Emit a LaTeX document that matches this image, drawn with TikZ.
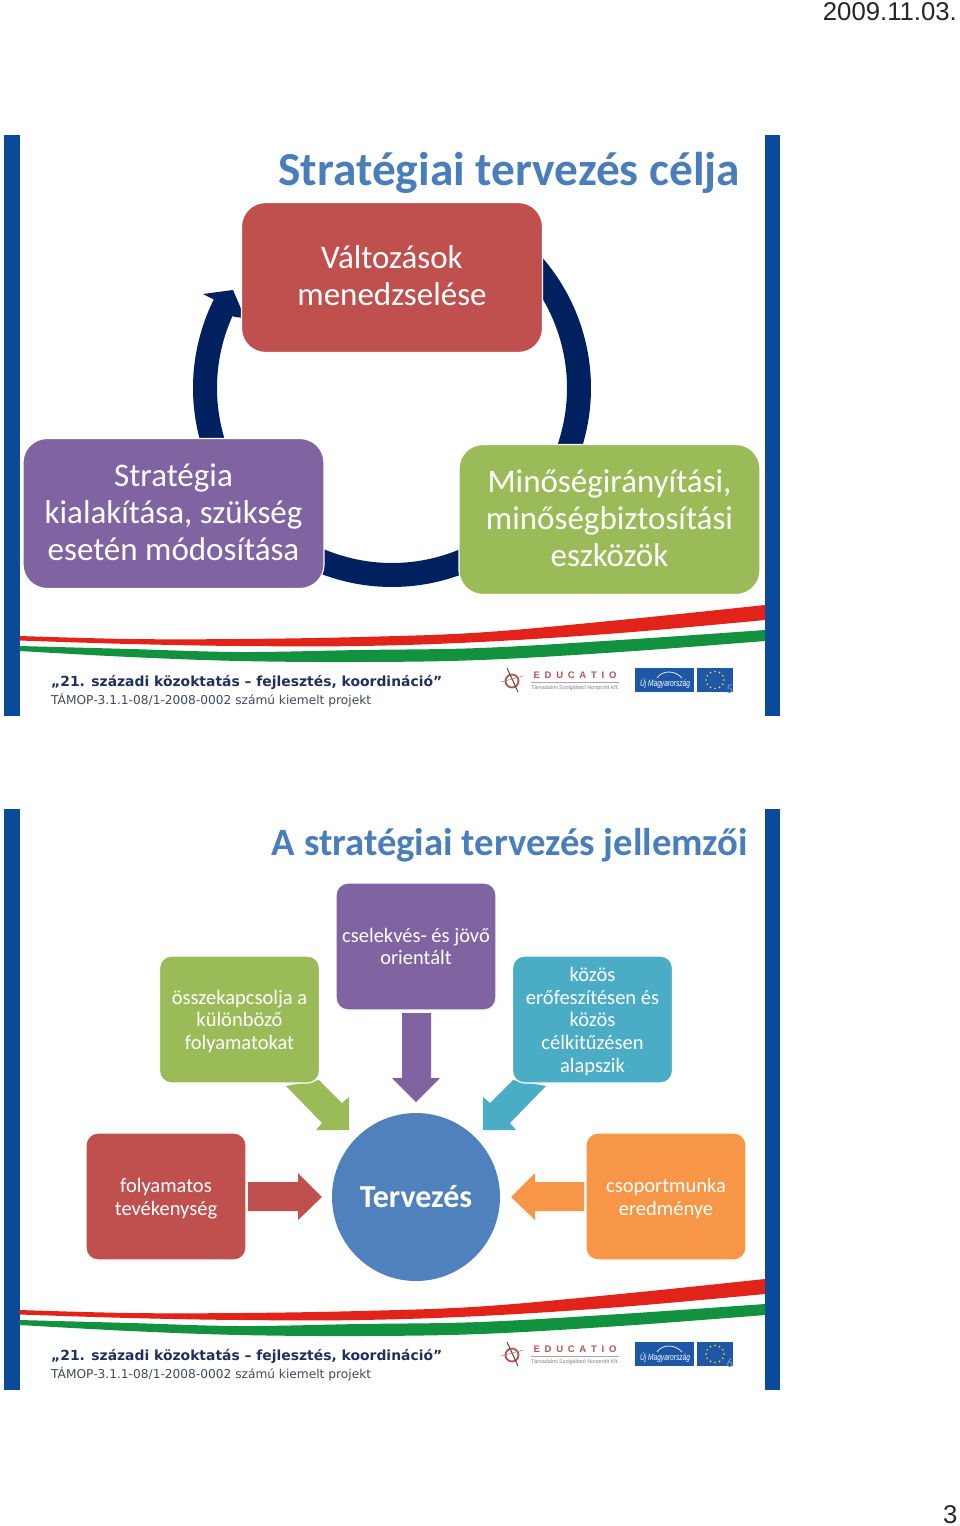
\documentclass[tikz,border=0pt]{standalone}
\usepackage{fontspec}
\usepackage{graphicx}
\setmainfont{Carlito}
\newfontfamily\arialf{Liberation Sans}
\newfontfamily\verdf{DejaVu Sans}
\definecolor{cred}{HTML}{C0504D}
\definecolor{cpurple}{HTML}{8064A2}
\definecolor{cgreen}{HTML}{9BBB59}
\definecolor{cblue}{HTML}{4F81BD}
\definecolor{cteal}{HTML}{4BACC6}
\definecolor{corange}{HTML}{F79646}
\definecolor{cnavy}{HTML}{002060}
\definecolor{cbar}{HTML}{0B4A9B}
\definecolor{ctitle}{HTML}{4A7EBB}
\definecolor{sred}{HTML}{E2231A}
\definecolor{sgreen}{HTML}{12913F}
\definecolor{foot}{HTML}{1F2F5E}
\definecolor{foottwo}{HTML}{3F4A5C}
\definecolor{logoblue}{HTML}{1F57A8}
\definecolor{numcol}{HTML}{7A93B8}
\tikzset{
  x=1pt,y=-1pt,
  bigbox/.style={draw=white,line width=1.2pt,rounded corners=24pt,minimum width=301pt,minimum height=150pt,inner sep=0pt},
  bigtext/.style={inner sep=0pt,text=white,align=center,yshift=1.5pt,font=\fontsize{33}{37}\selectfont},
  smallbox/.style={draw=white,line width=1.2pt,rounded corners=12pt,minimum width=160pt,minimum height=127pt,inner sep=0pt},
  smalltext/.style={inner sep=0pt,text=white,align=center,yshift=-2pt,font=\fontsize{20.5}{22.7}\selectfont},
  slidetitle/.style={text=ctitle,inner sep=0pt},
  bararea/.style={fill=cbar,draw=none},
  footone/.style={anchor=base west,inner sep=0pt,text=foot,font=\verdf\bfseries\fontsize{13.9}{16}\selectfont},
  foottwo/.style={anchor=base west,inner sep=0pt,text=foottwo,font=\verdf\fontsize{12.2}{14}\selectfont},
  datetext/.style={inner sep=0pt,text=black!85,font=\arialf\fontsize{25.7}{28}\selectfont},
  pagenum/.style={inner sep=0pt,text=numcol,font=\fontsize{13}{13}\selectfont},
  logotext/.style={inner sep=0pt,font=\arialf\bfseries\fontsize{9.5}{10}\selectfont,text=cred},
  logosub/.style={inner sep=0pt,font=\arialf\fontsize{5.4}{6}\selectfont,text=black!50},
  logomag/.style={inner sep=0pt,font=\arialf\itshape,text=white}
}
\newcommand{\slidefurniture}[2]{%
 \begin{scope}[shift={(0,#1)}]
  \fill[bararea] (4,135) rectangle (19.5,716);
  \fill[bararea] (765,135) rectangle (779.5,716);
  \fill[sred] plot[smooth,tension=.6] coordinates {(19.5,636) (130,639) (240,639) (360,637) (480,632.5) (620,620) (765,605)} -- plot[smooth,tension=.6] coordinates {(765,620) (620,633) (480,642) (360,646) (240,646) (130,644) (19.5,640.5)} -- cycle;
  \fill[sgreen] plot[smooth,tension=.6] coordinates {(19.5,646) (130,649) (240,652) (360,650) (480,648) (620,640) (765,630)} -- plot[smooth,tension=.6] coordinates {(765,641) (620,652) (480,660) (360,662) (240,661) (130,657) (19.5,651)} -- cycle;
  \node[footone] (foota#2) at (51,686) {„21. századi közoktatás – fejlesztés, koordináció”};
  \node[foottwo] (footb#2) at (51,704) {TÁMOP-3.1.1-08/1-2008-0002 számú kiemelt projekt};
  \draw[cred,line width=1.8pt] (512,681) circle (6.5);
  \draw[black!70,line width=1pt] (507,668) -- (518,692);
  \draw[black!50,line width=.5pt] (501,682) -- (523,676);
  \node[logotext] (edu#2) at (575,675) {E\,\,\,D\,\,\,U\,\,\,C\,\,\,A\,\,\,T\,\,\,I\,\,\,O};
  \draw[black!35,line width=.6pt] (531,682) -- (619,682);
  \node[logosub] (edusub#2) at (575,688.5) {Társadalmi Szolgáltató Nonprofit Kft.};
  \fill[logoblue] (635,668) rectangle (694,692);
  \node[logomag] (mag#2) at (665,683) {\resizebox{50pt}{8pt}{Új Magyarország}};
  \draw[white,line width=.7pt] (657,678) .. controls (662,670) and (675,670) .. (682,678);
  \fill[logoblue] (697,668) rectangle (733,692);
  \foreach \a in {0,30,...,330}{\fill[yellow!85!orange] ({715+9*cos(\a)},{680+8.5*sin(\a)}) circle (.95);}
  \node[pagenum] (num#2) at (730,689.5) {#2};
 \end{scope}}
\begin{document}
\begin{tikzpicture}
\useasboundingbox (0,0) rectangle (960,1526);
\fill[white] (0,0) rectangle (960,1526);
\node[datetext,anchor=base east] (date) at (957,20) {2009.11.03.};
\node[datetext,anchor=base east] (pg) at (957.5,1523) {3};
\slidefurniture{0}{5}
\slidefurniture{674}{6}
% slide 1 ring
\fill[cnavy] plot[domain=-45:17,samples=40] ({392+199*cos(\x)},{388+199*sin(\x)}) -- plot[domain=19:-45,samples=40] ({392+175*cos(\x)},{388+175*sin(\x)}) -- cycle;
\fill[cnavy] plot[domain=60:120,samples=40] ({392+199*cos(\x)},{388+199*sin(\x)}) -- plot[domain=120:60,samples=40] ({392+175*cos(\x)},{388+175*sin(\x)}) -- cycle;
\fill[cnavy] plot[domain=164:206.4,samples=40] ({392+199*cos(\x)},{388+199*sin(\x)}) -- (203,294) -- (233,290) -- (245,318) -- (235,317) -- plot[domain=204.3:160,samples=40] ({392+175*cos(\x)},{388+175*sin(\x)}) -- cycle;
\node[slidetitle,font=\bfseries\fontsize{47.4}{50}\selectfont] (t1) at (509.5,172.5) {Stratégiai tervezés célja};
\node[bigbox,fill=cred,label={[bigtext]center:Változások\\menedzselése}] (a) at (392,277.5) {};
\node[bigbox,fill=cpurple,label={[bigtext]center:Stratégia\\kialakítása, szükség\\esetén módosítása}] (b) at (173.5,513.5) {};
\node[bigbox,fill=cgreen,label={[bigtext]center:Minőségirányítási,\\minőségbiztosítási\\eszközök}] (c) at (609.5,519.5) {};
% slide 2
\node[slidetitle,font=\bfseries\fontsize{38.7}{41}\selectfont] (t2) at (510,845.5) {A stratégiai tervezés jellemzői};
\fill[cgreen] (286,1086) -- (319,1080) -- (342,1103) -- (349,1097) -- (349,1130) -- (316,1130) -- (322,1123) -- cycle;
\fill[cteal] (546,1086) -- (513,1080) -- (490,1103) -- (483,1097) -- (483,1130) -- (516,1130) -- (510,1123) -- cycle;
\fill[cpurple] (402,1013) -- (431,1013) -- (431,1078) -- (440,1078) -- (416,1102) -- (392,1078) -- (402,1078) -- cycle;
\fill[cred] (248,1182) -- (298,1182) -- (298,1173) -- (322,1197) -- (298,1220) -- (298,1211) -- (248,1211) -- cycle;
\fill[corange] (584,1182) -- (535,1182) -- (535,1173) -- (511,1197) -- (535,1220) -- (535,1211) -- (584,1211) -- cycle;
\node[smallbox,fill=cgreen,label={[smalltext]center:összekapcsolja a\\különböző\\folyamatokat}] (g) at (239.5,1019.5) {};
\node[smallbox,fill=cpurple,label={[smalltext,yshift=2pt]center:cselekvés- és jövő\\orientált}] (p) at (416,946.5) {};
\node[smallbox,fill=cteal,label={[smalltext]center:közös\\erőfeszítésen és\\közös\\célkitűzésen\\alapszik}] (k) at (592.5,1019.5) {};
\node[smallbox,fill=cred,label={[smalltext]center:folyamatos\\tevékenység}] (r) at (166,1196.5) {};
\node[smallbox,fill=corange,label={[smalltext]center:csoportmunka\\eredménye}] (o) at (666,1196.5) {};
\node[circle,fill=cblue,draw=none,minimum size=168pt,inner sep=0pt,text=white,font=\bfseries\fontsize{32}{34}\selectfont] (z) at (416,1197) {Tervezés};
\end{tikzpicture}
\end{document}
